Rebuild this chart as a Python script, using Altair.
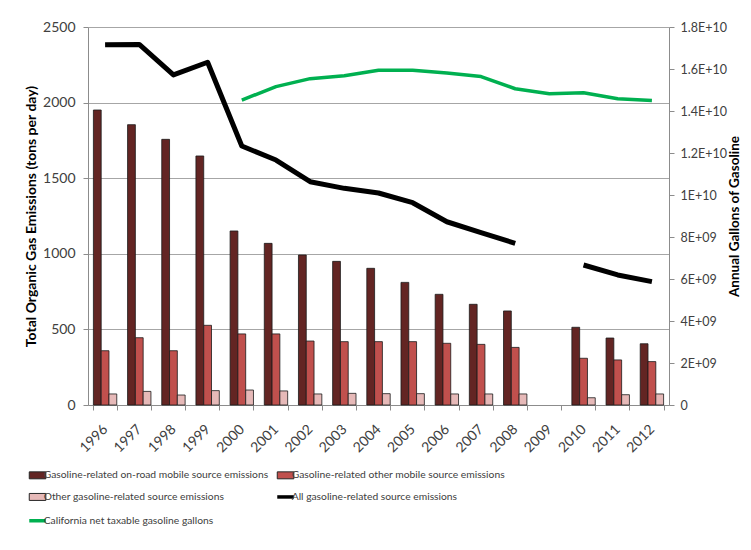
import altair as alt
import pandas as pd

years = [str(y) for y in range(1996, 2013)]
onroad = [1951, 1854, 1757, 1647, 1151, 1069, 992, 950, 904, 811, 732, 666, 622, None, 514, 443, 405]
other_mobile = [359, 445, 359, 527, 470, 470, 423, 419, 419, 419, 408, 401, 381, None, 309, 298, 287]
other_source = [73, 90, 66, 95, 99, 93, 73, 77, 75, 75, 73, 73, 73, None, 48, 68, 73]
all_gasoline = [2383, 2385, 2183, 2267, 1713, 1620, 1477, 1433, 1402, 1338, 1212, 1140, 1069, None, 926, 860, 816]
ca_gallons = [None, None, None, None, 1.452e10, 1.516e10, 1.554e10, 1.568e10, 1.594e10, 1.594e10,
              1.581e10, 1.564e10, 1.506e10, 1.482e10, 1.487e10, 1.458e10, 1.450e10]

series_names = [
    "Gasoline-related on-road mobile source emissions",
    "Gasoline-related other mobile source emissions",
    "Other gasoline-related source emissions",
    "All gasoline-related source emissions",
    "California net taxable gasoline gallons",
]
series_colors = ["#632523", "#C0504D", "#E6B9B8", "#000000", "#00B050"]
left_ticks = [0, 500, 1000, 1500, 2000, 2500]
right_ticks = [0, 2e9, 4e9, 6e9, 8e9, 1e10, 1.2e10, 1.4e10, 1.6e10, 1.8e10]

rows = []
for name, vals in zip(series_names[:3], [onroad, other_mobile, other_source]):
    for yr, v in zip(years, vals):
        if v is not None:
            rows.append({"year": yr, "series": name, "value": v})
bars_df = pd.DataFrame(rows)
lines_df = pd.DataFrame({"year": years, "total": all_gasoline, "gallons": ca_gallons})

FONT = "Lato"
LABEL_COLOR = "#404040"
AXIS_COLOR = "#8c8c8c"

x_scale = alt.Scale(domain=years, paddingInner=0.316, paddingOuter=0.158)

is_line = ("(datum.value == 'All gasoline-related source emissions' || "
           "datum.value == 'California net taxable gasoline gallons')")
legend = alt.Legend(
    title=None, orient="none", legendX=-55.6, legendY=443, columns=2, direction="horizontal",
    symbolSize=275, labelFont=FONT, labelFontSize=10.3, labelColor=LABEL_COLOR, labelLimit=400,
    labelOffset=1, rowPadding=8.8, columnPadding=1, padding=0,
    symbolType=alt.ExprRef(expr=is_line + " ? 'M-1,0H1' : 'M-1,-0.42H1V0.42H-1Z'"),
    symbolStrokeColor=alt.ExprRef(expr="datum.value == 'All gasoline-related source emissions' ? '#000000' : "
                                       "datum.value == 'California net taxable gasoline gallons' ? '#00B050' : '#262626'"),
    symbolStrokeWidth=alt.ExprRef(expr=is_line + " ? 3.5 : 1"),
)

bars = alt.Chart(bars_df).mark_bar(stroke="#1a1a1a", strokeWidth=0.8).encode(
    x=alt.X("year:O", scale=x_scale, axis=alt.Axis(
        title=None, labelAngle=315, labelAlign="right", labelBaseline="middle",
        tickBand="extent", tickSize=5, labelPadding=17, labelFont=FONT, labelFontSize=14,
        labelColor=LABEL_COLOR, domainColor=AXIS_COLOR, tickColor=AXIS_COLOR, grid=False,
        orient="bottom")),
    xOffset=alt.XOffset("series:N", scale=alt.Scale(domain=series_names[:3], paddingInner=0, paddingOuter=0)),
    y=alt.Y("value:Q", scale=alt.Scale(domain=[0, 2500], nice=False), axis=alt.Axis(
        title="Total Organic Gas Emissions (tons per day)", orient="left", values=left_ticks,
        format="d", grid=True, gridColor="#a6a6a6", domainColor=AXIS_COLOR, tickColor=AXIS_COLOR,
        tickSize=5, labelPadding=8, labelFont=FONT, labelFontSize=14, labelColor=LABEL_COLOR,
        titleFont=FONT, titleFontSize=14, titleFontWeight="bold", titleColor="#000000",
        titlePadding=4)),
    color=alt.Color("series:N", scale=alt.Scale(domain=series_names, range=series_colors), legend=legend),
)

black = alt.Chart(lines_df).mark_line(
    color="#000000", strokeWidth=5, strokeJoin="round", invalid="break-paths-show-domains"
).encode(
    x=alt.X("year:O", scale=x_scale),
    y=alt.Y("total:Q", scale=alt.Scale(domain=[0, 2500], nice=False), axis=None),
)

green = alt.Chart(lines_df).mark_line(
    color="#00B050", strokeWidth=3.5, strokeJoin="round", invalid="break-paths-show-domains"
).encode(
    x=alt.X("year:O", scale=x_scale),
    y=alt.Y("gallons:Q", scale=alt.Scale(domain=[0, 1.8e10], nice=False), axis=alt.Axis(
        title="Annual Gallons of Gasoline", orient="right", values=right_ticks, grid=False,
        labelExpr="datum.value == 0 ? '0' : datum.value >= 1e10 ? format(datum.value / 1e10, '.2~g') + 'E+10' : format(datum.value / 1e9, '.2~g') + 'E+09'",
        domainColor=AXIS_COLOR, tickColor=AXIS_COLOR, tickSize=5, labelPadding=6,
        labelFont=FONT, labelFontSize=12.5, labelColor=LABEL_COLOR, titleAngle=270,
        titleBaseline="top",
        titleFont=FONT, titleFontSize=13.5, titleFontWeight="bold", titleColor="#000000",
        titlePadding=1)),
)

chart = alt.layer(bars, black, green).resolve_scale(y="independent").properties(
    width=581, height=378,
    autosize=alt.AutoSizeParams(type="none"),
    padding={"left": 80, "top": 19, "right": 74, "bottom": 130},
).configure_view(stroke=None)

chart.save("out.html", embed_options={"renderer": "svg", "actions": False})
